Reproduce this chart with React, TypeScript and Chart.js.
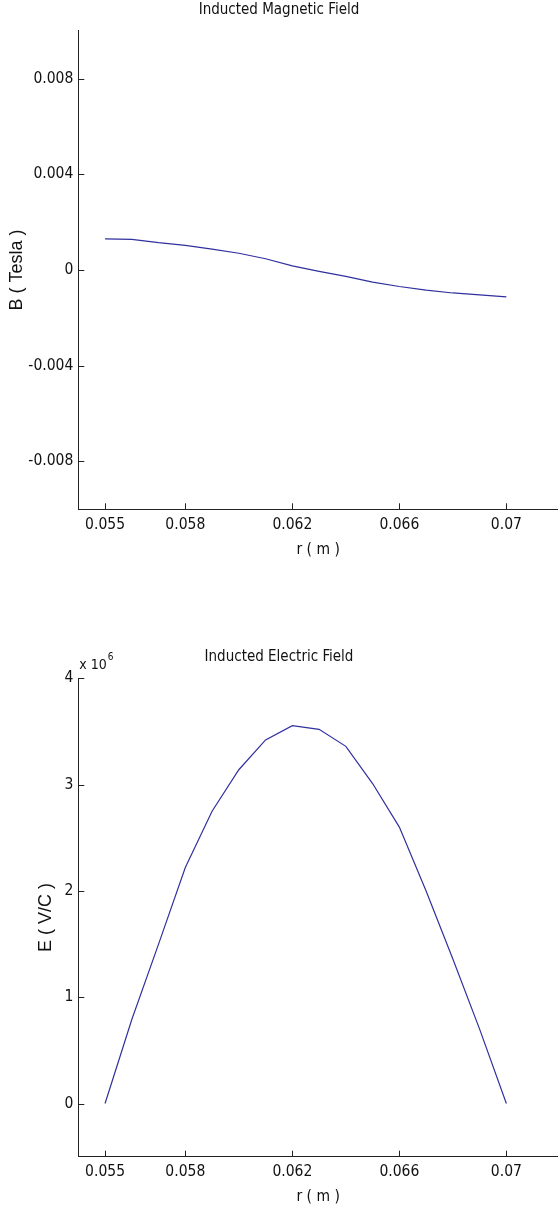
import React, { useEffect, useRef } from "react";
import { Chart, registerables } from "chart.js";

Chart.register(...registerables);

// ---- data ----
const rValues = [0.055, 0.056, 0.057, 0.058, 0.059, 0.06, 0.061, 0.062, 0.063, 0.064, 0.065, 0.066, 0.067, 0.068, 0.069, 0.07];
const bValues = [0.0013, 0.00128, 0.00114, 0.00103, 0.00087, 0.0007, 0.00047, 0.00017, -0.00006, -0.00027, -0.00051, -0.00069, -0.00084, -0.00096, -0.00104, -0.00112];
const eValues = [0, 0.79e6, 1.5e6, 2.22e6, 2.75e6, 3.14e6, 3.42e6, 3.555e6, 3.52e6, 3.36e6, 3.01e6, 2.6e6, 2.0e6, 1.36e6, 0.7e6, 0];

const xTicks = [0.055, 0.058, 0.062, 0.066, 0.07];
const xTickLabels = ["0.055", "0.058", "0.062", "0.066", "0.07"];
const bTicks = [-0.008, -0.004, 0, 0.004, 0.008];
const bTickLabels = ["-0.008", "-0.004", "0", "0.004", "0.008"];
const eTicks = [0, 1e6, 2e6, 3e6, 4e6];
const eTickLabels = ["0", "1", "2", "3", "4"];

const topTitle = "Inducted Magnetic Field";
const bottomTitle = "Inducted Electric Field";
const xTitle = "r ( m )";
const bTitle = "B ( Tesla )";
const eTitle = "E ( V/C )";
const multBase = "x 10";
const multExp = "6";

// ---- styles ----
const NARROW = "'Liberation Sans Narrow', 'Arial Narrow', 'DejaVu Sans Condensed', sans-serif";
const REGULAR = "'Liberation Sans', Arial, sans-serif";
const TEXT = "#111111";
const AXIS = "#222222";
const LINE = "#30309e";
const TICK_FS = 15.5;
const TITLE_FS = 15;

const inwardTicks = {
  id: "inwardTicks",
  afterDraw(chart: any) {
    const ctx = chart.ctx;
    const { left, bottom } = chart.chartArea;
    const xs = chart.scales.x;
    const ys = chart.scales.y;
    ctx.save();
    ctx.strokeStyle = AXIS;
    ctx.lineWidth = 1;
    ctx.beginPath();
    xs.ticks.forEach((t: any) => {
      const px = Math.round(xs.getPixelForValue(t.value)) + 0.5;
      ctx.moveTo(px, bottom);
      ctx.lineTo(px, bottom - 6);
    });
    ys.ticks.forEach((t: any) => {
      const py = Math.round(ys.getPixelForValue(t.value)) + 0.5;
      ctx.moveTo(left, py);
      ctx.lineTo(left + 6, py);
    });
    ctx.stroke();
    ctx.restore();
  },
};

const multiplier = {
  id: "multiplier",
  afterDraw(chart: any) {
    const ctx = chart.ctx;
    const { left, top } = chart.chartArea;
    ctx.save();
    ctx.fillStyle = TEXT;
    ctx.textAlign = "left";
    ctx.textBaseline = "alphabetic";
    ctx.font = `14px ${NARROW}`;
    ctx.fillText(multBase, left + 1, top - 9);
    const w = ctx.measureText(multBase).width;
    ctx.font = `10px ${NARROW}`;
    ctx.fillText(multExp, left + 2 + w, top - 18);
    ctx.restore();
  },
};

type Cfg = {
  values: number[];
  yMin: number;
  yMax: number;
  yTicks: number[];
  yTickLabels: string[];
  title: string;
  titlePadTop: number;
  titlePadBottom: number;
  yTitle: string;
  yTitlePad: number;
  xHeight: number;
  xTitlePadBottom: number;
  extra: any[];
};

function buildChart(canvas: HTMLCanvasElement, c: Cfg) {
  return new Chart(canvas, {
    type: "line",
    data: {
      datasets: [
        {
          data: rValues.map((r, i) => ({ x: r, y: c.values[i] })),
          borderColor: LINE,
          borderWidth: 1.2,
          pointRadius: 0,
          tension: 0,
          fill: false,
        },
      ],
    },
    options: {
      animation: false,
      responsive: false,
      events: [],
      layout: { padding: 0 },
      plugins: {
        legend: { display: false },
        tooltip: { enabled: false },
        title: {
          display: true,
          text: c.title,
          color: TEXT,
          font: { family: NARROW, size: TITLE_FS, weight: "normal" as any },
          padding: { top: c.titlePadTop, bottom: c.titlePadBottom },
        },
      },
      scales: {
        x: {
          type: "linear",
          min: 0.054,
          max: 0.07193,
          grid: { display: false, drawTicks: false },
          border: { display: true, color: AXIS, width: 1 },
          afterBuildTicks: (s: any) => {
            s.ticks = xTicks.map((v) => ({ value: v }));
          },
          afterFit: (s: any) => {
            s.height = c.xHeight;
          },
          ticks: {
            autoSkip: false,
            maxRotation: 0,
            padding: 6,
            color: TEXT,
            font: { family: NARROW, size: TICK_FS },
            callback: (v: any) => {
              const i = xTicks.indexOf(Number(v));
              return i >= 0 ? xTickLabels[i] : "";
            },
          },
          title: {
            display: true,
            text: xTitle,
            color: TEXT,
            font: { family: NARROW, size: TICK_FS },
            padding: { top: 0, bottom: c.xTitlePadBottom },
          },
        },
        y: {
          type: "linear",
          min: c.yMin,
          max: c.yMax,
          grid: { display: false, drawTicks: false },
          border: { display: true, color: AXIS, width: 1 },
          afterBuildTicks: (s: any) => {
            s.ticks = c.yTicks.map((v) => ({ value: v }));
          },
          afterFit: (s: any) => {
            s.width = 78.3;
          },
          ticks: {
            autoSkip: false,
            padding: 5,
            color: TEXT,
            font: { family: NARROW, size: TICK_FS },
            callback: (v: any) => {
              const i = c.yTicks.indexOf(Number(v));
              return i >= 0 ? c.yTickLabels[i] : "";
            },
          },
          title: {
            display: true,
            text: c.yTitle,
            color: TEXT,
            font: { family: REGULAR, size: 18 },
            padding: { top: c.yTitlePad, bottom: 0 },
          },
        },
      },
    },
    plugins: c.extra,
  } as any);
}

export default function App() {
  const topRef = useRef<HTMLCanvasElement>(null);
  const botRef = useRef<HTMLCanvasElement>(null);

  useEffect(() => {
    const a = buildChart(topRef.current!, {
      values: bValues,
      yMin: -0.01,
      yMax: 0.01,
      yTicks: bTicks,
      yTickLabels: bTickLabels,
      title: topTitle,
      titlePadTop: 1,
      titlePadBottom: 11.7,
      yTitle: bTitle,
      yTitlePad: 6,
      xHeight: 90.7,
      xTitlePadBottom: 41,
      extra: [inwardTicks],
    });
    const b = buildChart(botRef.current!, {
      values: eValues,
      yMin: -0.5e6,
      yMax: 4e6,
      yTicks: eTicks,
      yTickLabels: eTickLabels,
      title: bottomTitle,
      titlePadTop: 48,
      titlePadBottom: 12.3,
      yTitle: eTitle,
      yTitlePad: 35,
      xHeight: 52.3,
      xTitlePadBottom: 2.5,
      extra: [inwardTicks, multiplier],
    });
    return () => {
      a.destroy();
      b.destroy();
    };
  }, []);

  return (
    <div
      style={{
        position: "absolute",
        left: 0,
        top: 0,
        width: 558,
        height: 1209,
        overflow: "hidden",
        background: "#ffffff",
      }}
    >
      <canvas ref={topRef} width={558} height={600} style={{ display: "block", position: "absolute", left: 0, top: 0 }} />
      <canvas ref={botRef} width={558} height={609} style={{ display: "block", position: "absolute", left: 0, top: 600 }} />
    </div>
  );
}
